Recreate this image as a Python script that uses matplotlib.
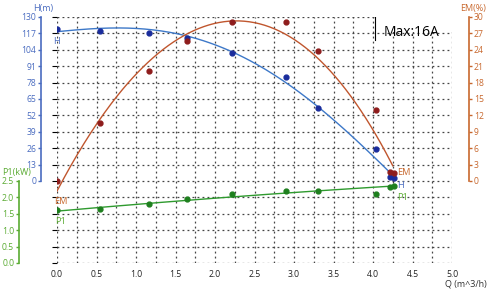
import numpy as np
import matplotlib.pyplot as plt
from matplotlib.patches import Rectangle

plt.rcParams['font.family'] = ['Open Sans', 'DejaVu Sans']

# pump test points
q = [0.0, 0.55, 1.16, 1.65, 2.21, 2.90, 3.31, 4.04, 4.22, 4.26]
head = [120.7, 119.1, 117.6, 113.6, 101.5, 82.4, 57.6, 25.1, 3.5, 2.5]
em = [0.0, 10.7, 20.2, 25.6, 29.0, 29.1, 23.8, 13.0, 1.6, 1.4]
p1 = [1.62, 1.66, 1.81, 1.96, 2.10, 2.20, 2.19, 2.10, 2.33, 2.35]

# fitted curves
q_h_curve = [0.0, 0.33, 0.67, 0.92, 1.18, 1.47, 1.64, 1.94, 2.21, 2.44,
             2.57, 2.82, 3.08, 3.31, 3.58, 3.84, 4.05, 4.19, 4.24]
h_curve = [117.9, 120.5, 121.8, 121.8, 120.2, 116.5, 114.1, 108.4, 102.0, 96.5,
           92.0, 82.2, 70.8, 57.6, 42.6, 28.5, 18.0, 8.7, 4.8]
q_em_curve = [0.0, 0.165, 0.333, 0.544, 0.755, 0.966, 1.18, 1.43, 1.68, 1.94,
              2.19, 2.44, 2.57, 2.86, 3.16, 3.41, 3.58, 3.79, 3.92, 4.09, 4.25]
em_curve = [-2.25, 2.6, 6.9, 11.5, 16.0, 19.2, 21.8, 24.3, 26.7, 28.4,
            29.3, 29.45, 29.1, 27.3, 24.9, 20.9, 17.6, 13.5, 11.0, 7.0, 3.35]
q_p1_curve = [0.0, 0.5, 1.0, 1.5, 2.0, 2.5, 3.0, 3.5, 4.0, 4.27]
p1_curve = [1.585, 1.68, 1.78, 1.89, 1.98, 2.07, 2.15, 2.22, 2.30, 2.36]

q_ticks = [0.0, 0.5, 1.0, 1.5, 2.0, 2.5, 3.0, 3.5, 4.0, 4.5, 5.0]
h_ticks = list(range(0, 131, 13))
em_ticks = list(range(0, 31, 3))
p1_ticks = [0.0, 0.5, 1.0, 1.5, 2.0, 2.5]

c_h, c_h_pt, c_h_ax = '#3d78c8', '#1a2c9c', '#4a6cc0'
c_em, c_em_pt, c_em_ax = '#c0562e', '#8e1c1c', '#c8682e'
c_p1, c_p1_pt, c_p1_ax = '#2e9a2e', '#1e7f1e', '#5aab32'
fs = 6.2

W, H = 490, 290
dpi = 100
fig = plt.figure(figsize=(W / dpi, H / dpi), dpi=dpi)
x0, x1, y0, y1 = 57, 452, 17, 263
rect = [x0 / W, 1 - y1 / H, (x1 - x0) / W, (y1 - y0) / H]

ax = fig.add_axes(rect)
ax.set_xlim(0, 5)
ax.set_ylim(0, 15)
ax.set_xticks(np.arange(0, 5.01, 0.25), minor=True)
ax.set_xticks(q_ticks)
ax.set_xticklabels([f'{t:.1f}' for t in q_ticks])
ax.set_yticks(range(16))
ax.tick_params(axis='x', which='both', length=0, pad=5, labelsize=fs, colors='#222222')
ax.tick_params(axis='y', left=False, labelleft=False)
ax.grid(True, which='both', color='#444444', linestyle=(0, (1.5, 2.5)), linewidth=0.9)
ax.set_axisbelow(True)
for s in ax.spines.values():
    s.set_visible(False)

# "Max" box
ax.add_patch(Rectangle((4.02, 14.1), 0.98, 0.92, facecolor='white', edgecolor='none', zorder=3))
ax.plot([4.02, 4.02], [13.6, 15], color='black', linewidth=0.8, zorder=4)
ax.text(4.13, 14.05, 'Max:16A', fontsize=10, va='center', ha='left', zorder=5)

pt = 72 / dpi


def make_twin(lo, hi, bottom, top, side, offset, color, ticks, fmt):
    a = ax.twinx()
    a.set_ylim(bottom, top)
    a.patch.set_visible(False)
    for s in a.spines.values():
        s.set_visible(False)
    sp = a.spines[side]
    sp.set_visible(True)
    sp.set_position(('outward', offset * pt))
    sp.set_bounds(lo, hi)
    sp.set_color(color)
    sp.set_linewidth(1.2)
    a.yaxis.set_ticks_position(side)
    a.yaxis.set_label_position(side)
    a.set_yticks(ticks)
    a.set_yticklabels([fmt.format(t) for t in ticks])
    a.tick_params(axis='y', colors=color, length=2.5, width=1, pad=1, labelsize=fs)
    return a


def smooth(xs, ys, deg):
    # smooth the traced curve so it is drawn without kinks
    xx = np.linspace(xs[0], xs[-1], 200)
    return xx, np.polyval(np.polyfit(xs, ys, deg), xx)


ax_h = make_twin(0, 130, -65, 130, 'left', 16, c_h_ax, h_ticks, '{}')
ax_em = make_twin(0, 30, -15, 30, 'right', 17, c_em_ax, em_ticks, '{}')
ax_p = make_twin(0, 2.5, 0, 7.5, 'left', 38, c_p1_ax, p1_ticks, '{:.1f}')

ax_h.plot(*smooth(q_h_curve, h_curve, 4), color=c_h, linewidth=1)
ax_h.plot(q, head, 'o', color=c_h_pt, markersize=3.5)
ax_em.plot(*smooth(q_em_curve, em_curve, 4), color=c_em, linewidth=1)
ax_em.plot(q, em, 'o', color=c_em_pt, markersize=3.5)
ax_p.plot(*smooth(q_p1_curve, p1_curve, 2), color=c_p1, linewidth=1)
ax_p.plot(q, p1, 'o', color=c_p1_pt, markersize=3.5)

ax_h.text(-0.01, 110.4, 'H', color=c_h_ax, fontsize=fs + 0.5, va='center', ha='center')
ax_em.text(0.05, -3.8, 'EM', color=c_em_ax, fontsize=fs + 0.5, va='center', ha='center')
ax_p.text(0.05, 1.28, 'P1', color=c_p1_ax, fontsize=fs + 0.5, va='center', ha='center')
ax_em.text(4.30, 1.5, 'EM', color=c_em_ax, fontsize=fs + 0.5, va='center', ha='left')
ax_h.text(4.30, -3.2, 'H', color=c_h_ax, fontsize=fs + 0.5, va='center', ha='left')
ax_p.text(4.30, 2.0, 'P1', color=c_p1_ax, fontsize=fs + 0.5, va='center', ha='left')

fig.text(43 / W, 1 - 9 / H, 'H(m)', color=c_h_ax, fontsize=fs + 0.3, ha='center', va='center')
fig.text(473 / W, 1 - 9 / H, 'EM(%)', color=c_em_ax, fontsize=fs + 0.3, ha='center', va='center')
fig.text(17 / W, 1 - 173 / H, 'P1(kW)', color=c_p1_ax, fontsize=fs + 0.3, ha='center', va='center')
fig.text(487 / W, 1 - 284 / H, 'Q (m^3/h)', color='#333333', fontsize=fs + 0.3, ha='right', va='center')

fig.savefig('out.png', dpi=dpi)
